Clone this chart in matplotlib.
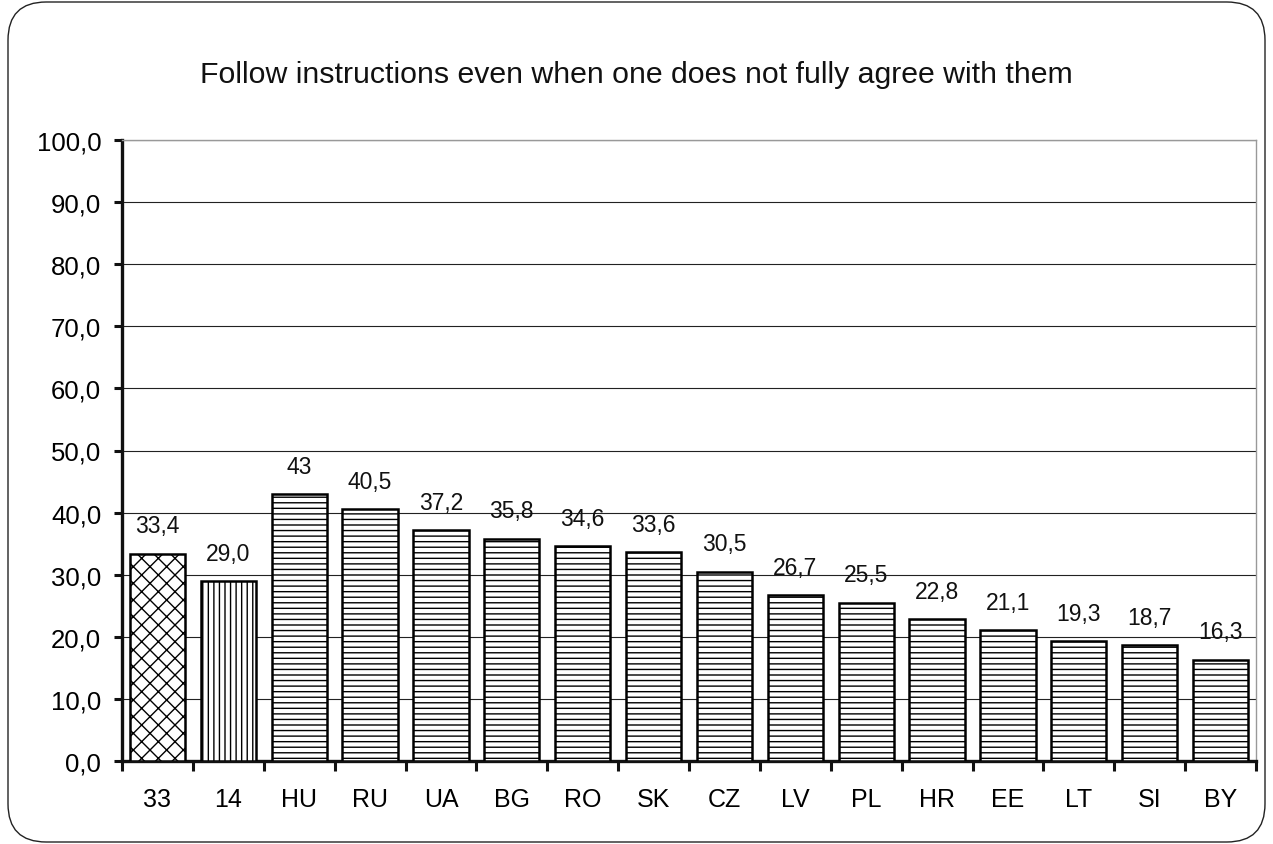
import matplotlib.pyplot as plt
from matplotlib.patches import FancyBboxPatch

# Data
countries = ["33", "14", "HU", "RU", "UA", "BG", "RO", "SK", "CZ", "LV",
             "PL", "HR", "EE", "LT", "SI", "BY"]
values = [33.4, 29.0, 43, 40.5, 37.2, 35.8, 34.6, 33.6, 30.5, 26.7,
          25.5, 22.8, 21.1, 19.3, 18.7, 16.3]
value_labels = ["33,4", "29,0", "43", "40,5", "37,2", "35,8", "34,6", "33,6",
                "30,5", "26,7", "25,5", "22,8", "21,1", "19,3", "18,7", "16,3"]
hatches = ["xx", "|||"] + ["---"] * 14
y_ticks = [0, 10, 20, 30, 40, 50, 60, 70, 80, 90, 100]

plt.rcParams['font.family'] = ['Liberation Sans', 'DejaVu Sans']
plt.rcParams['hatch.linewidth'] = 1.0

fig = plt.figure(figsize=(12.73, 8.45), dpi=100)

# rounded frame around the whole chart
frame = FancyBboxPatch((8 / 1273, 2 / 845), 1257 / 1273, 840 / 845,
                       boxstyle="round,pad=0,rounding_size=0.03",
                       transform=fig.transFigure, facecolor="white",
                       edgecolor="#222222", linewidth=1.0, zorder=-1,
                       mutation_aspect=1273 / 845)
fig.patches.append(frame)

ax = fig.add_axes([122 / 1273, 1 - 762 / 845, 1134 / 1273, 621 / 845])
ax.set_facecolor("none")

x = list(range(len(countries)))
bars = ax.bar(x, values, width=0.78, color="white", edgecolor="black",
              linewidth=1.8, zorder=3)
for b, h in zip(bars, hatches):
    b.set_hatch(h)

for xi, v, lab in zip(x, values, value_labels):
    ax.annotate(lab, (xi, v), xytext=(0, 20), textcoords="offset points",
                ha="center", va="center", fontsize=16.5, color="#111111")

ax.set_xlim(-0.5, len(countries) - 0.5)
ax.set_ylim(0, 100)
ax.set_yticks(y_ticks)
ax.set_yticklabels([f"{t:.1f}".replace(".", ",") for t in y_ticks], fontsize=18.5)
ax.yaxis.grid(True, color="#222222", linewidth=0.8, zorder=0)
ax.set_axisbelow(True)

# category boundaries as major ticks, labels on minor ticks
ax.set_xticks([i - 0.5 for i in range(len(countries) + 1)])
ax.set_xticklabels([])
ax.set_xticks(x, minor=True)
ax.set_xticklabels(countries, minor=True, fontsize=18)
ax.tick_params(axis="x", which="major", direction="out", length=7, width=2.2,
               color="#111111")
ax.tick_params(axis="x", which="minor", length=0, pad=19)
ax.tick_params(axis="y", direction="out", length=6, width=2.2, color="#111111",
               pad=9)

for s in ["left", "bottom"]:
    ax.spines[s].set_linewidth(2.4)
    ax.spines[s].set_color("#111111")
for s in ["right", "top"]:
    ax.spines[s].set_linewidth(1.0)
    ax.spines[s].set_color("#999999")

fig.text(0.5, 1 - 75 / 845, "Follow instructions even when one does not fully agree with them",
         ha="center", va="center", fontsize=21.8, color="#111111")

fig.savefig("out.png", dpi=100)
